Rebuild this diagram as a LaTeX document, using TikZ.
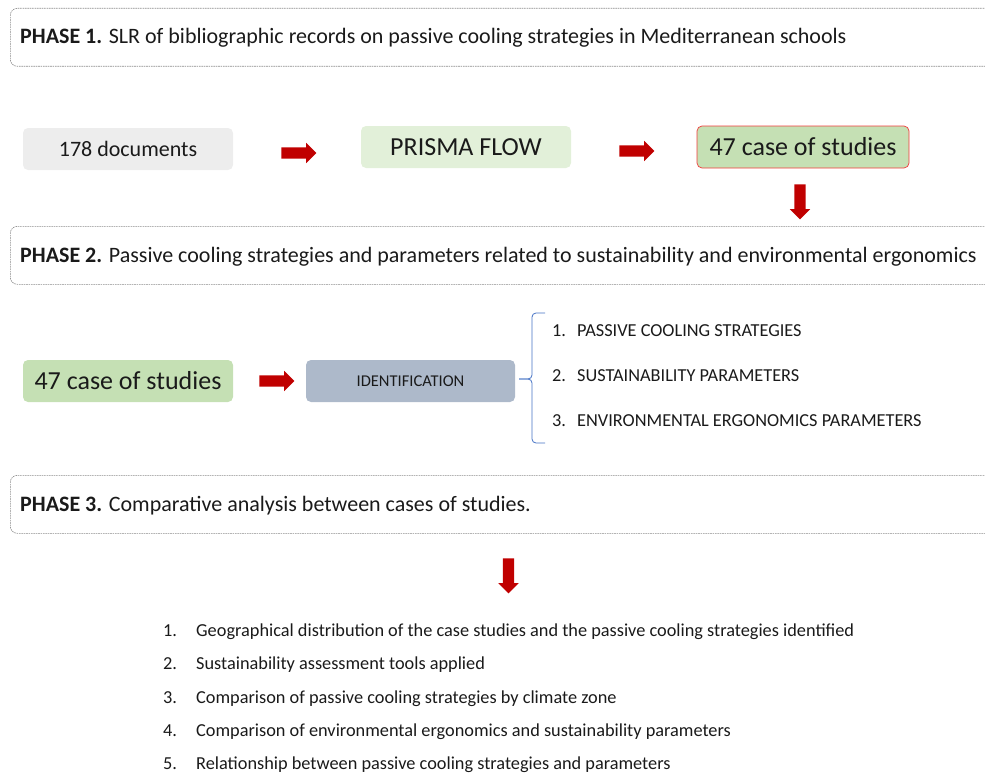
\documentclass[tikz,border=0pt]{standalone}
\usepackage{fontspec}
\setmainfont{Carlito}
\usetikzlibrary{shapes.arrows}

\definecolor{framegray}{HTML}{8C8C8C}
\definecolor{docgray}{HTML}{EDEDED}
\definecolor{prismagreen}{HTML}{E2F0D9}
\definecolor{casegreen}{HTML}{C5E0B4}
\definecolor{caseborder}{HTML}{F03C3C}
\definecolor{identblue}{HTML}{ADB9CA}
\definecolor{bracecol}{HTML}{4472C4}
\definecolor{arrowred}{HTML}{C00000}
\definecolor{txt}{HTML}{1A1A1A}

\begin{document}
\begin{tikzpicture}[x=1pt,y=-1pt,
  phasebox/.style={draw=framegray, dash pattern=on 1.6pt off 0.8pt, line width=0.6pt,
    rounded corners=7pt, minimum width=1000pt, minimum height=58pt, inner sep=0pt,
    anchor=north west},
  phasetext/.style={anchor=base west, inner sep=0pt, text=txt,
    font=\fontsize{22}{26}\selectfont},
  softbox/.style={rounded corners=5pt, inner sep=0pt, minimum width=210pt,
    minimum height=42pt, text=txt},
  redarrow/.style={single arrow, fill=arrowred, draw=none, inner sep=0pt,
    minimum height=35pt, single arrow head extend=4.5pt,
    single arrow tip angle=90},
  listitem/.style={anchor=base west, inner sep=0pt, text=txt,
    font=\fontsize{18.3}{22}\selectfont},
]
\useasboundingbox (0,0) rectangle (985,776);
\clip (0,0) rectangle (985,776);

% ---------- Phase 1 ----------
\node[phasebox] (ph1) at (10,8) {};
\node[phasetext] (ph1t) at (20,44) {\textbf{PHASE 1.} SLR of bibliographic records on passive cooling strategies in Mediterranean schools};

\node[softbox, fill=docgray, font=\fontsize{22}{26}\selectfont] (docs) at (128,149) {178 documents};
\node[softbox, fill=prismagreen, font=\fontsize{26}{30}\selectfont] (prisma) at (466,147) {PRISMA FLOW};
\node[softbox, fill=casegreen, draw=caseborder, line width=0.7pt, minimum width=212pt,
      font=\fontsize{26}{30}\selectfont] (cases1) at (803,147) {47 case of studies};

\node[redarrow] (a1) at (296,153) {\rule{0pt}{11pt}};
\node[redarrow] (a2) at (634,151) {\rule{0pt}{11pt}};
\node[redarrow, rotate=-90] (a3) at (800,199) {\rule{0pt}{11pt}};

% ---------- Phase 2 ----------
\node[phasebox] (ph2) at (10,226) {};
\node[phasetext] (ph2t) at (20,262) {\textbf{PHASE 2.} Passive cooling strategies and parameters related to sustainability and environmental ergonomics};

\node[softbox, fill=casegreen, font=\fontsize{26}{30}\selectfont] (cases2) at (128,381) {47 case of studies};
\node[redarrow] (a4) at (274,381) {\rule{0pt}{11pt}};
\node[softbox, fill=identblue, minimum width=209pt, font=\fontsize{16.5}{20}\selectfont] (ident) at (410.5,381) {IDENTIFICATION};

% brace grouping the three identified items
\coordinate (bmid) at ([xshift=4pt]ident.east);
\draw[bracecol, line width=0.8pt, rounded corners=4pt]
  (545,313) -- (532,313) -- (532,379) -- (bmid |- 0,379);
\draw[bracecol, line width=0.8pt, rounded corners=4pt]
  (545,443) -- (532,443) -- (532,379) -- (bmid |- 0,379);

\node[listitem] (p1) at (552,336) {\makebox[25pt][l]{1.}PASSIVE COOLING STRATEGIES};
\node[listitem] (p2) at (552,381) {\makebox[25pt][l]{2.}SUSTAINABILITY PARAMETERS};
\node[listitem] (p3) at (552,426) {\makebox[25pt][l]{3.}ENVIRONMENTAL ERGONOMICS PARAMETERS};

% ---------- Phase 3 ----------
\node[phasebox] (ph3) at (10,475) {};
\node[phasetext] (ph3t) at (20,511) {\textbf{PHASE 3.} Comparative analysis between cases of studies.};

\node[redarrow, rotate=-90] (a5) at (508.5,573) {\rule{0pt}{11pt}};

\node[listitem] (r1) at (163,636) {\makebox[33pt][l]{1.}Geographical distribution of the case studies and the passive cooling strategies identified};
\node[listitem] (r2) at (163,669) {\makebox[33pt][l]{2.}Sustainability assessment tools applied};
\node[listitem] (r3) at (163,703) {\makebox[33pt][l]{3.}Comparison of passive cooling strategies by climate zone};
\node[listitem] (r4) at (163,736) {\makebox[33pt][l]{4.}Comparison of environmental ergonomics and sustainability parameters};
\node[listitem] (r5) at (163,769) {\makebox[33pt][l]{5.}Relationship between passive cooling strategies and parameters};
\end{tikzpicture}
\end{document}
